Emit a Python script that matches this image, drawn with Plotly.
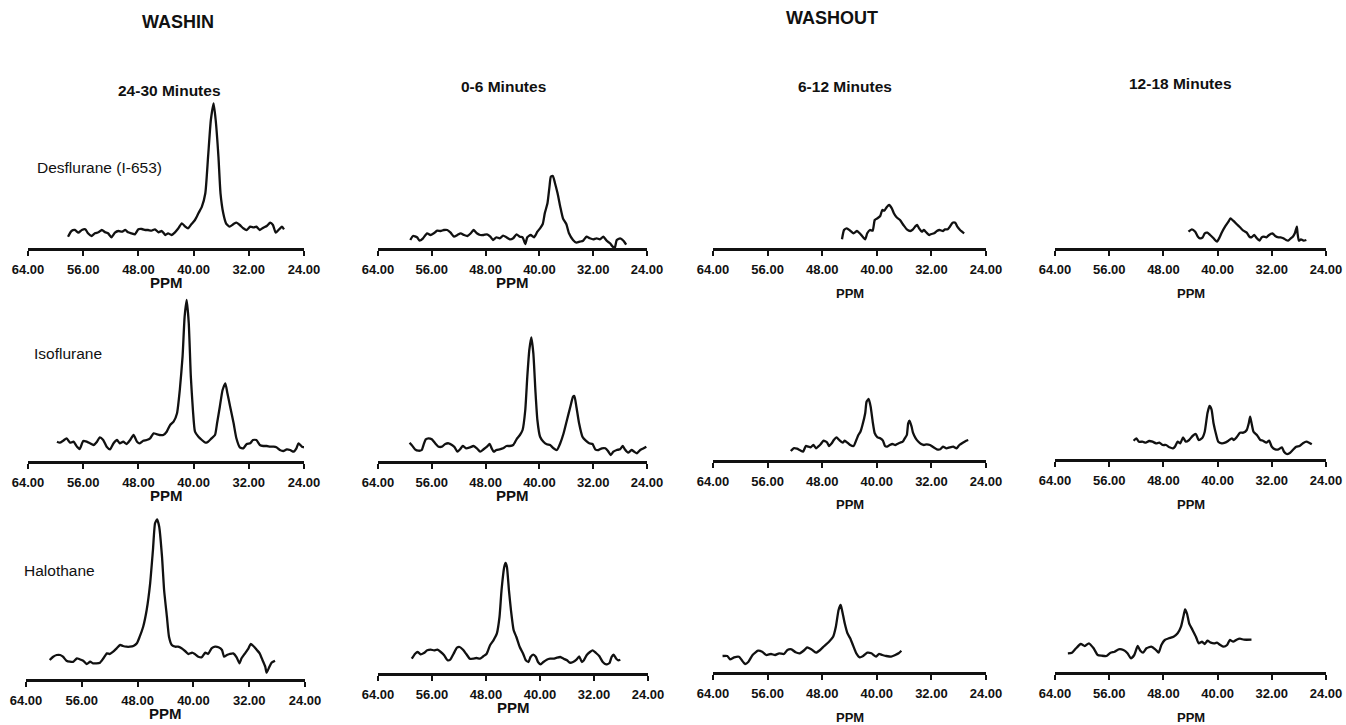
import plotly.graph_objects as go

W, H = 1346, 725
FONT = "Liberation Sans, Arial, Helvetica, sans-serif"

# ---------------- data ----------------
TICK_VALS = [64, 56, 48, 40, 32, 24]
COL_TITLES = ["24-30 Minutes", "0-6 Minutes", "6-12 Minutes", "12-18 Minutes"]
ROW_LABELS = ["Desflurane (I-653)", "Isoflurane", "Halothane"]
GROUP_TITLES = ["WASHIN", "WASHOUT"]
X_TITLE = "PPM"

# Desflurane (I-653)
des_washin_ppm = [58.2, 57.7, 57.2, 56.7, 56.2, 55.7, 55.3, 54.8, 54.3, 53.8, 53.3, 52.8, 52.4, 51.9, 51.4, 50.9, 50.4,
                  49.9, 49.5, 49.0, 48.5, 48.0, 47.5, 47.0, 46.6, 46.1, 45.6, 45.1, 44.6, 44.1, 43.7, 43.2, 42.7, 42.2,
                  41.7, 41.2, 40.8, 40.3, 39.8, 39.3, 38.8, 38.3, 37.9, 37.5, 37.1, 36.8, 36.4, 36.1, 35.7, 35.3, 34.8,
                  34.2, 33.8, 33.3, 32.8, 32.3, 31.8, 31.3, 30.9, 30.4, 29.9, 29.4, 28.9, 28.5, 28.1, 27.7, 27.2, 26.9]
des_washin_int = [11.3, 17, 18, 15.3, 18, 18.7, 14.7, 12, 14.7, 15.7, 18, 15.7, 14.7, 10.7, 15.3, 17, 16.3,
                  18, 15.7, 14.7, 13.7, 18.7, 19, 18, 18, 17.3, 18.7, 15.7, 17, 13, 14.7, 13, 15.7, 19.7,
                  24.7, 21.3, 19.7, 24, 28, 34.7, 41.3, 54.7, 91.3, 128, 144.7, 128, 91.3, 54.7, 34.7, 24.7, 21.3,
                  24, 25.3, 23, 19.7, 18, 21.3, 20.7, 21.3, 18, 20.3, 22, 25.3, 23, 15.3, 18, 21.3, 18.7]

des_out_0_6_ppm = [59.2, 58.8, 58.2, 57.8, 57.3, 56.7, 56.2, 55.7, 55.2, 54.7, 54.2, 53.7, 53.2, 52.7, 52.2, 51.7,
                   51.2, 50.7, 50.2, 49.8, 49.3, 48.8, 48.3, 47.8, 47.3, 46.9, 46.4, 45.9, 45.4, 44.9, 44.4, 43.9,
                   43.4, 42.9, 42.5, 42.1, 41.8, 41.3, 40.8, 40.3, 39.9, 39.5, 39.2, 38.8, 38.5, 38.3, 38.0, 37.7,
                   37.3, 36.9, 36.5, 36.0, 35.6, 35.0, 34.5, 34.0, 33.5, 33.0, 32.5, 32.0, 31.5, 31.0, 30.5, 30.0,
                   29.5, 29.1, 28.8, 28.5, 28.0, 27.5, 27.1]
des_out_0_6_int = [8, 12, 10.7, 7.3, 9.7, 14.7, 13, 14.7, 17.3, 17, 18, 18, 15.3, 11.3, 13, 14.7,
                   13, 12, 14.7, 18, 14.7, 13, 13, 13.7, 11.3, 8, 10.7, 9.7, 12.3, 10.7, 8.7, 9.7,
                   13.7, 11.3, 10.7, 4, 10.7, 13, 10.7, 16.3, 19.7, 24, 34.7, 44.7, 61.3, 71.3, 72, 65.3,
                   54.7, 41.3, 29.7, 24, 14.7, 8, 5.3, 6.3, 7.3, 11.3, 9.7, 8.7, 9.7, 8.7, 11.3, 7.3,
                   4.7, 1.3, 0, 8, 9.7, 7.3, 3.3]

des_out_6_12_ppm = [45.1, 44.8, 44.4, 43.9, 43.4, 42.9, 42.5, 42.0, 41.7, 41.4, 41.0, 40.6, 40.3, 39.9, 39.5, 39.2,
                    38.9, 38.5, 38.2, 37.8, 37.5, 37.1, 36.6, 36.1, 35.6, 35.1, 34.7, 34.4, 34.1, 33.8, 33.4, 33.1,
                    32.7, 32.3, 32.0, 31.6, 31.2, 30.8, 30.3, 30.0, 29.6, 29.3, 28.9, 28.5, 28.2, 27.8, 27.2]
des_out_6_12_int = [8.7, 18, 19.7, 17.3, 14.7, 17, 14.7, 10.7, 8.7, 14.7, 18, 17.3, 28, 29.7, 32, 38,
                    37.3, 41.3, 43, 39.7, 34.7, 30.7, 28, 23, 18.7, 17, 18.7, 21.3, 23, 19.7, 16.3, 18,
                    15.3, 13, 14, 14.7, 17, 18, 17, 18.7, 18.7, 21.3, 25.3, 25.3, 21.3, 18, 14.7]

des_out_12_18_ppm = [44.3, 43.8, 43.3, 42.9, 42.6, 42.2, 41.9, 41.5, 41.1, 40.6, 40.1, 39.7, 39.4, 38.9, 38.4, 38.1,
                     37.7, 37.2, 36.7, 36.2, 35.7, 35.3, 35.0, 34.6, 34.2, 33.8, 33.5, 33.2, 32.8, 32.4, 31.9, 31.5,
                     31.0, 30.7, 30.3, 29.9, 29.6, 29.2, 28.9, 28.6, 28.3, 28.2, 28.0, 27.7, 27.3, 26.9]
des_out_12_18_int = [16.3, 18.7, 16.3, 11.3, 9.7, 10.7, 14.7, 15.3, 13, 9.7, 6.3, 10.7, 15.3, 21.3, 26.3, 29.7,
                     27.3, 24, 20.7, 17.3, 15.3, 11.3, 10.7, 13, 9.7, 7.3, 10.7, 11.3, 10.7, 13, 14.7, 12,
                     10.7, 10.7, 9.7, 8, 7.3, 9.7, 11.3, 14.7, 21.3, 14.7, 7.3, 8.7, 7.3, 8]

# Isoflurane
iso_washin_ppm = [59.8, 59.4, 58.9, 58.4, 57.9, 57.4, 56.9, 56.5, 56.0, 55.5, 55.0, 54.5, 54.0, 53.6, 53.1, 52.6,
                  52.1, 51.6, 51.1, 50.7, 50.2, 49.7, 49.2, 48.7, 48.2, 47.8, 47.3, 46.8, 46.3, 45.8, 45.3, 44.9,
                  44.4, 43.9, 43.4, 42.9, 42.4, 42.0, 41.6, 41.3, 41.0, 40.7, 40.4, 40.1, 39.8, 39.3, 38.8, 38.3,
                  37.9, 37.4, 36.9, 36.6, 36.2, 35.8, 35.4, 35.1, 34.7, 34.2, 33.8, 33.3, 32.8, 32.3, 31.8, 31.4,
                  30.9, 30.4, 29.9, 29.4, 28.9, 28.4, 28.0, 27.5, 27.0, 26.5, 26.0, 25.5, 25.1, 24.8, 24.3, 24.0]
iso_washin_int = [19.3, 18.3, 20.3, 22.7, 18.3, 19.3, 14.3, 12, 20, 19.3, 17.7, 16, 19.3, 23.7, 21, 14.3,
                  11.7, 17.7, 21, 17.7, 19.3, 17, 21, 26, 19.3, 17.7, 20.3, 21, 22.7, 27.7, 26.7, 26,
                  26, 29.3, 36, 39.3, 47.7, 71, 104.3, 144.3, 161, 137.7, 84.3, 51, 29.3, 24.3, 21, 18.3,
                  19.3, 22.7, 26, 37.7, 54.3, 71, 77.7, 67.7, 54.3, 37.7, 22.7, 13.7, 12.7, 17, 17.7, 21,
                  21, 16, 15, 15, 14.3, 14.3, 13.7, 11, 10, 11.7, 11, 9.3, 12.7, 17.7, 14.3, 13.7]

iso_out_0_6_ppm = [59.3, 59.0, 58.5, 58.0, 57.5, 57.2, 56.9, 56.5, 56.0, 55.5, 55.0, 54.5, 54.0, 53.5, 53.0, 52.6,
                   52.2, 51.8, 51.4, 50.9, 50.3, 49.8, 49.3, 48.8, 48.3, 47.8, 47.4, 47.1, 46.8, 46.4, 45.9, 45.4,
                   44.9, 44.4, 43.9, 43.4, 42.9, 42.5, 42.1, 41.8, 41.5, 41.2, 40.9, 40.6, 40.3, 39.9, 39.4, 38.9,
                   38.4, 37.9, 37.4, 36.9, 36.4, 35.9, 35.4, 35.0, 34.8, 34.5, 34.1, 33.6, 33.1, 32.6, 32.1, 31.7,
                   31.2, 30.7, 30.2, 29.8, 29.4, 29.0, 28.5, 28.0, 27.6, 27.3, 26.8, 26.3, 25.9, 25.5, 25.0, 24.5,
                   24.1]
iso_out_0_6_int = [18.3, 16, 11.7, 10.3, 11, 16.7, 21.7, 22.7, 21.7, 17.7, 14.3, 14.3, 17, 17.7, 16, 13.7,
                   9.3, 11.7, 15, 12.7, 13.7, 15, 12.7, 9.3, 11.7, 14.3, 17, 12.7, 9.3, 11, 11.7, 12.7,
                   15, 15, 16, 21.7, 26, 31, 51, 84.3, 111, 123.7, 107.7, 71, 41, 24.3, 19.3, 16.7,
                   16, 12.7, 11, 17.7, 27.7, 41, 54.3, 64.3, 65, 54.3, 37.7, 24.3, 20.3, 17.7, 17, 11.7,
                   11, 12.7, 12.7, 10, 6, 9.3, 11, 11.7, 15, 11.7, 8.3, 11, 9.3, 7.7, 11, 12.7,
                   14.3]

iso_out_6_12_ppm = [52.6, 52.2, 51.7, 51.3, 50.8, 50.4, 50.0, 49.7, 49.3, 48.9, 48.6, 48.2, 47.8, 47.3, 47.0, 46.6,
                    46.3, 45.9, 45.5, 45.0, 44.7, 44.3, 43.9, 43.4, 43.0, 42.7, 42.4, 42.1, 41.7, 41.5, 41.2, 40.9,
                    40.6, 40.3, 39.9, 39.5, 39.1, 38.8, 38.5, 38.1, 37.7, 37.3, 37.0, 36.6, 36.2, 35.9, 35.6, 35.4,
                    35.2, 34.9, 34.7, 34.3, 33.9, 33.5, 33.1, 32.7, 32.2, 31.7, 31.2, 30.7, 30.3, 29.8, 29.3, 28.8,
                    28.3, 27.9, 27.4, 26.9, 26.6]
iso_out_6_12_int = [9, 11.7, 11.3, 10, 8.3, 14, 13.3, 12.7, 15, 11.7, 13.3, 16, 19.3, 17.7, 14, 16.7,
                    20, 22.7, 20, 17.3, 19.3, 17.3, 15, 14, 20, 25, 28.3, 35, 46.7, 58.3, 61, 53.3,
                    38.3, 26.7, 22.7, 21.7, 19.3, 14, 13.3, 15, 16, 15, 16, 17.3, 18.3, 21.7, 25, 36.7,
                    39.3, 33.3, 27.3, 21.7, 18.3, 16, 15, 15.7, 15, 12.7, 10.7, 10.7, 13.3, 11.7, 12.7, 13.3,
                    11.7, 15, 17.3, 19.3, 20]

iso_out_12_18_ppm = [52.4, 52.0, 51.6, 51.1, 50.6, 50.1, 49.6, 49.1, 48.6, 48.1, 47.6, 47.1, 46.6, 46.3, 45.9, 45.5,
                     45.1, 44.7, 44.2, 43.7, 43.2, 42.8, 42.3, 41.9, 41.5, 41.2, 40.9, 40.6, 40.2, 39.9, 39.4, 38.9,
                     38.4, 37.9, 37.6, 37.2, 36.7, 36.2, 35.7, 35.4, 35.2, 35.0, 34.7, 34.2, 33.7, 33.3, 32.8, 32.4,
                     32.0, 31.5, 31.0, 30.5, 30.2, 29.8, 29.4, 28.9, 28.4, 27.9, 27.4, 26.9, 26.5, 26.1]
iso_out_12_18_int = [18.3, 20.7, 17.3, 17.3, 16.3, 18, 17.3, 15.7, 16.3, 14, 14, 11.7, 10.7, 12.3, 17.3, 15.7,
                     21.7, 17.3, 19, 23, 25, 19, 20.7, 27.3, 45.7, 53, 49.7, 35.7, 24, 17.3, 15.7, 16.3,
                     18.3, 20.7, 19, 21.7, 26.3, 26.3, 29, 35.7, 42.3, 36.3, 27.3, 24, 19, 18.3, 16.3, 18.3,
                     12.3, 9.7, 9.7, 11.7, 7.3, 5, 5.7, 9, 12.3, 13, 15.7, 17.3, 16.3, 14.7]

# Halothane
hal_washin_ppm = [60.6, 60.1, 59.6, 59.1, 58.7, 58.2, 57.7, 57.2, 56.7, 56.3, 55.8, 55.3, 54.8, 54.4, 53.9, 53.4,
                  52.9, 52.4, 52.0, 51.5, 51.0, 50.5, 50.1, 49.6, 49.1, 48.6, 48.1, 47.7, 47.2, 46.7, 46.2, 45.8,
                  45.5, 45.2, 44.9, 44.5, 44.2, 43.8, 43.5, 43.1, 42.6, 42.2, 41.7, 41.2, 40.7, 40.2, 39.8, 39.3,
                  38.8, 38.3, 37.9, 37.4, 36.9, 36.4, 35.9, 35.6, 35.2, 34.8, 34.3, 33.8, 33.4, 33.1, 32.6, 32.1,
                  31.8, 31.4, 30.9, 30.5, 30.1, 29.7, 29.5, 29.1, 28.8, 28.3]
hal_washin_int = [19, 22.3, 24, 24, 22.3, 18.3, 17.3, 17.3, 20.7, 19.7, 18.3, 15, 17.3, 15.7, 15.7, 16.3,
                  20.7, 25.7, 25, 27.3, 30.7, 34, 33, 32.3, 32.3, 33, 35.7, 42.3, 52.3, 69, 95.7, 129,
                  155.7, 159.7, 152.3, 122.3, 89, 62.3, 42.3, 34, 32.3, 32.3, 30.7, 28, 25, 26.3, 25, 22.3,
                  21.7, 26.3, 25, 30.7, 32.3, 31.7, 29, 22.3, 24, 25, 25.7, 21.7, 15.7, 20.7, 25.7, 30.7,
                  35, 33, 29, 25.7, 19, 12.3, 6.3, 12.3, 16.3, 18.3]

hal_out_0_6_ppm = [59.0, 58.5, 58.1, 57.7, 57.2, 56.7, 56.2, 55.7, 55.2, 54.7, 54.2, 53.7, 53.3, 52.8, 52.3, 51.9,
                   51.4, 50.9, 50.4, 49.9, 49.4, 48.9, 48.4, 47.9, 47.4, 46.9, 46.4, 46.0, 45.7, 45.3, 45.1, 44.9,
                   44.6, 44.3, 43.9, 43.5, 43.0, 42.5, 42.1, 41.7, 41.4, 41.0, 40.6, 40.3, 39.9, 39.5, 39.0, 38.5,
                   38.0, 37.5, 37.0, 36.5, 36.0, 35.6, 35.1, 34.6, 34.2, 33.8, 33.5, 33.1, 32.6, 32.2, 31.7, 31.2,
                   30.7, 30.2, 29.7, 29.4, 29.1, 28.7, 28.4, 28.1]
hal_out_0_6_int = [14.3, 19.3, 21, 18.7, 20, 22.7, 23.3, 22.7, 23.3, 21, 17.7, 12.7, 13.3, 19.3, 25.3, 26,
                   23.3, 18.7, 14.3, 14.3, 15, 14.3, 16.7, 19.3, 27.7, 32.7, 39.3, 56, 82.7, 106, 110, 106,
                   82.7, 62.7, 42.7, 36, 26, 19.3, 12.7, 11, 16, 18.3, 16, 11, 8.7, 11, 13.3, 14.3,
                   14.3, 15.3, 16, 14.3, 12.7, 10.3, 11, 13.3, 16.7, 11, 12.7, 17.7, 21, 22.7, 20, 16.7,
                   11, 8.7, 10, 16, 18.3, 14.3, 12.7, 13.3]

hal_out_6_12_ppm = [62.6, 61.9, 61.5, 60.9, 60.2, 59.8, 59.3, 58.8, 58.2, 57.4, 56.8, 56.2, 55.5, 54.9, 54.3, 53.6,
                    53.1, 52.5, 51.9, 51.3, 50.6, 50.2, 49.6, 48.9, 48.3, 47.7, 47.0, 46.4, 46.0, 45.6, 45.3, 45.1,
                    44.7, 44.3, 43.9, 43.5, 43.0, 42.5, 42.0, 41.4, 40.8, 40.1, 39.7, 39.2, 38.6, 37.9, 37.3, 36.8,
                    36.4]
hal_out_6_12_int = [16, 16, 12.7, 14.7, 15.3, 12, 8, 10.3, 17, 21.3, 20.3, 17, 18, 17, 18.7, 18,
                    22, 22.7, 19.7, 18.7, 22, 24.7, 22.7, 19.3, 22, 26, 30.3, 35.3, 45.3, 62, 67, 62,
                    48.7, 38.7, 33.7, 27, 18.7, 14.7, 16, 19.3, 18.7, 15.3, 18, 17, 16, 15.3, 17, 18.7,
                    21.3]

hal_out_12_18_ppm = [62.1, 61.5, 60.9, 60.2, 59.6, 59.0, 58.3, 57.7, 57.1, 56.4, 55.8, 55.2, 54.6, 53.9, 53.3, 52.8,
                     52.3, 51.8, 51.4, 51.0, 50.5, 49.8, 49.2, 48.7, 48.3, 47.8, 47.2, 46.5, 45.9, 45.4, 45.0, 44.8,
                     44.5, 44.2, 43.7, 43.2, 42.8, 42.3, 41.9, 41.5, 41.0, 40.5, 40.1, 39.6, 39.1, 38.6, 38.2, 37.7,
                     37.2, 36.7, 36.1, 35.0]
hal_out_12_18_int = [18.7, 19.3, 23.7, 28, 26, 28.7, 23.7, 17, 16.3, 16, 19.3, 20.3, 22.7, 22, 18.7, 13.7,
                     17, 26, 21.3, 19.3, 23.7, 25.3, 22.7, 19.3, 27, 32, 33.7, 35.3, 38.7, 45.3, 57, 62.7,
                     58, 48.7, 42, 35.3, 28.7, 30.3, 28, 31.3, 29.3, 28.7, 29.3, 27, 25.3, 27, 32, 30.3,
                     32.3, 33.3, 32.3, 32.3]

SPECTRA = [
    [(des_washin_ppm, des_washin_int), (des_out_0_6_ppm, des_out_0_6_int),
     (des_out_6_12_ppm, des_out_6_12_int), (des_out_12_18_ppm, des_out_12_18_int)],
    [(iso_washin_ppm, iso_washin_int), (iso_out_0_6_ppm, iso_out_0_6_int),
     (iso_out_6_12_ppm, iso_out_6_12_int), (iso_out_12_18_ppm, iso_out_12_18_int)],
    [(hal_washin_ppm, hal_washin_int), (hal_out_0_6_ppm, hal_out_0_6_int),
     (hal_out_6_12_ppm, hal_out_6_12_int), (hal_out_12_18_ppm, hal_out_12_18_int)],
]

# ---------------- layout geometry (pixels) ----------------
# (left px of 64 ppm, right px of 24 ppm, axis-line y px)
GEOM = [
    [(28, 304, 248), (378, 647, 248), (713, 986, 248), (1055, 1326, 248)],
    [(28, 304, 461), (378, 647, 461), (713, 986, 460), (1055, 1326, 459)],
    [(26, 305, 679), (378, 648, 673), (713, 986, 672), (1055, 1326, 672)],
]
SPAN = 170  # px height of each panel's plotting area
PPM_OFFSET = [34, 34, 45, 45]  # px below axis line of the "PPM" caption, per column


def px(x):
    return x / W


def py(y):
    return 1 - y / H


fig = go.Figure()
layout = {}
annotations = []

for r in range(3):
    for c in range(4):
        k = r * 4 + c + 1
        sfx = "" if k == 1 else str(k)
        x0, x1, ya = GEOM[r][c]
        xs, ys = SPECTRA[r][c]
        fig.add_trace(go.Scatter(
            x=xs, y=ys, mode="lines",
            line=dict(color="#111111", width=2.3, shape="spline", smoothing=0.5),
            xaxis="x" + sfx, yaxis="y" + sfx, showlegend=False, hoverinfo="skip"))
        layout["xaxis" + sfx] = dict(
            domain=[px(x0), px(x1)], range=[64, 24], autorange=False, anchor="y" + sfx,
            automargin=False,
            tickmode="array", tickvals=TICK_VALS, tickformat=".2f",
            showline=True, linecolor="#111111", linewidth=2.5, mirror=False,
            ticks="outside", ticklen=5, tickwidth=2, tickcolor="#111111",
            showgrid=False, zeroline=False, fixedrange=True,
            tickfont=dict(family=FONT, size=13, color="#111111", weight="bold"),
            ticklabelstandoff=3,
        )
        layout["yaxis" + sfx] = dict(
            domain=[py(ya), py(ya - SPAN)], range=[0, SPAN], autorange=False,
            anchor="x" + sfx, visible=False, fixedrange=True, automargin=False,
        )
        annotations.append(dict(
            text="<b>%s</b>" % X_TITLE, xref="paper", yref="paper",
            x=px((x0 + x1) / 2), y=py(ya + PPM_OFFSET[c]), xanchor="center", yanchor="middle",
            showarrow=False, font=dict(family=FONT, size=15 if c < 2 else 13, color="#111111")))

# group titles
annotations.append(dict(text="<b>%s</b>" % GROUP_TITLES[0], xref="paper", yref="paper",
                        x=px(178), y=py(22), xanchor="center", yanchor="middle", showarrow=False,
                        font=dict(family=FONT, size=18, color="#111111")))
annotations.append(dict(text="<b>%s</b>" % GROUP_TITLES[1], xref="paper", yref="paper",
                        x=px(832), y=py(18), xanchor="center", yanchor="middle", showarrow=False,
                        font=dict(family=FONT, size=18, color="#111111")))

# column titles
COL_TITLE_POS = [(169, 90), (503, 86), (845, 86), (1180, 83)]
for t, (cx, cy) in zip(COL_TITLES, COL_TITLE_POS):
    annotations.append(dict(text="<b>%s</b>" % t, xref="paper", yref="paper",
                            x=px(cx), y=py(cy), xanchor="center", yanchor="middle", showarrow=False,
                            font=dict(family=FONT, size=15.5, color="#111111")))

# row labels
ROW_LABEL_POS = [(35, 167), (32, 353), (22, 570)]
for t, (lx, ly) in zip(ROW_LABELS, ROW_LABEL_POS):
    annotations.append(dict(text=t, xref="paper", yref="paper",
                            x=px(lx), y=py(ly), xanchor="left", yanchor="middle", showarrow=False,
                            font=dict(family=FONT, size=15.5, color="#111111")))

fig.update_layout(
    width=W, height=H, autosize=False,
    margin=dict(l=0, r=0, t=0, b=0, pad=0),
    paper_bgcolor="white", plot_bgcolor="white",
    annotations=annotations,
    **layout,
)

fig.write_html("out.html", config={"displayModeBar": False, "staticPlot": True})
